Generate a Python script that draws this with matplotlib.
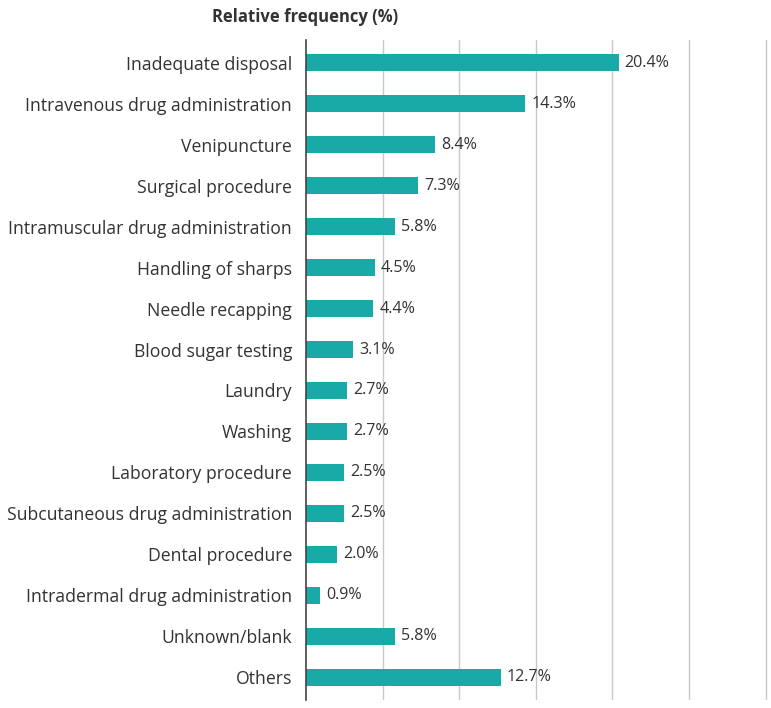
import numpy as np
import matplotlib.pyplot as plt

categories = ["Inadequate disposal", "Intravenous drug administration", "Venipuncture",
              "Surgical procedure", "Intramuscular drug administration", "Handling of sharps",
              "Needle recapping", "Blood sugar testing", "Laundry", "Washing",
              "Laboratory procedure", "Subcutaneous drug administration", "Dental procedure",
              "Intradermal drug administration", "Unknown/blank", "Others"]
values = [20.4, 14.3, 8.4, 7.3, 5.8, 4.5, 4.4, 3.1, 2.7, 2.7, 2.5, 2.5, 2.0, 0.9, 5.8, 12.7]
grid_ticks = [5, 10, 15, 20, 25, 30]

plt.rcParams['font.family'] = ['Open Sans', 'DejaVu Sans']

fig = plt.figure(figsize=(7.71, 7.08), dpi=100)
ax = fig.add_axes([306 / 771, 8 / 708, (30.2 * 15.32) / 771, 660 / 708])

y = np.arange(len(categories))
ax.barh(y, values, height=0.42, color='#17aaa7', zorder=3)
for yi, v in zip(y, values):
    ax.text(v + 0.4, yi, f"{v}%", va='center', ha='left', fontsize=11.6, color='#333333')

ax.set_xlim(0, 30.2)
ax.set_ylim(len(categories) - 0.45, -0.55)
ax.set_yticks(y)
ax.set_yticklabels(categories, fontsize=12.7, color='#333333')
ax.tick_params(axis='y', length=0, pad=10)
ax.set_xticks(grid_ticks)
ax.tick_params(axis='x', length=0, labelbottom=False)
ax.grid(axis='x', color='#c8c8c8', linewidth=1, zorder=0)

for s in ['top', 'right', 'bottom']:
    ax.spines[s].set_visible(False)
ax.spines['left'].set_color('#444444')
ax.spines['left'].set_linewidth(1.2)
ax.spines['left'].set_zorder(4)

fig.text(305 / 771, 1 - 17 / 708, "Relative frequency (%)", ha='center', va='center',
         fontsize=12, fontweight='bold', color='#333333')

fig.savefig("out.png", dpi=100)
